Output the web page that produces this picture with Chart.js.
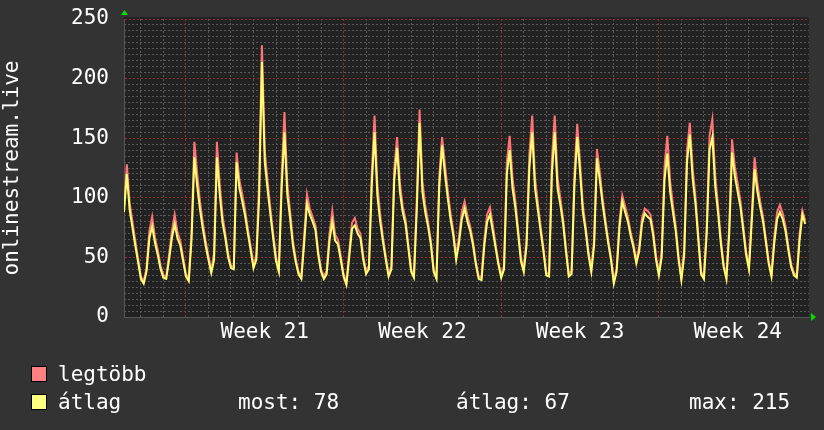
<!DOCTYPE html>
<html>
<head>
<meta charset="utf-8">
<script src="https://cdn.jsdelivr.net/npm/chart.js@4.4.0/dist/chart.umd.min.js"></script>
<style>
  html, body { margin: 0; padding: 0; background: #333333; }
  #wrap { position: relative; width: 824px; height: 430px; overflow: hidden; }
  #graph { position: absolute; left: 0; top: 0; }
  .lg { position: absolute; font-family: 'DejaVu Sans Mono', monospace; font-size: 21px; line-height: 24px; color: #ffffff; white-space: pre; }
  .sw { position: absolute; width: 14px; height: 14px; border: 1px solid #000; }
</style>
</head>
<body>
<div id="wrap">
  <canvas id="graph" width="824" height="430"></canvas>
</div>
<script>
// samples every 3 hours, hour 0 = start of week 21
const startHour = -66;
const stepHours = 3;

const weekLabels = ['Week 21', 'Week 22', 'Week 23', 'Week 24'];
const weekMidHours = [84, 252, 420, 588];
const weekStartHours = [0, 168, 336, 504];
const yLabels = [0, 50, 100, 150, 200, 250];

const seriesNames = ['legtöbb', 'átlag'];
const swatchColors = ['#ff8080', '#ffff80'];
const statNames = ['most', 'átlag', 'max'];
const statValues = [78, 67, 215];

const avgValues = [
  88, 120, 90, 75, 60, 46, 32, 28,
  38, 66, 76, 62, 52, 40, 33, 32,
  48, 66, 78, 66, 60, 47, 34, 30,
  65, 134, 110, 90, 74, 60, 48, 37,
  48, 134, 103, 79, 66, 50, 41, 40,
  130, 108, 97, 85, 70, 56, 41, 48,
  100, 214, 130, 107, 86, 66, 47, 38,
  108, 155, 103, 83, 60, 46, 36, 32,
  62, 95, 86, 80, 73, 52, 38, 32,
  36, 64, 80, 64, 61, 48, 34, 27,
  50, 74, 77, 70, 66, 48, 36, 40,
  110, 155, 102, 80, 63, 48, 34, 40,
  115, 142, 105, 88, 78, 58, 38, 33,
  90, 163, 105, 88, 76, 61, 38, 32,
  110, 144, 120, 100, 82, 68, 48, 62,
  82, 91, 80, 72, 60, 44, 32, 31,
  60, 80, 86, 72, 58, 44, 33, 40,
  120, 140, 108, 92, 70, 47, 38, 60,
  125, 155, 108, 90, 72, 55, 35, 34,
  120, 155, 108, 94, 78, 55, 34, 36,
  110, 151, 122, 88, 72, 52, 38, 60,
  133, 115, 95, 78, 62, 48, 28, 38,
  75, 97, 88, 80, 68, 58, 45, 55,
  78, 87, 84, 82, 68, 48, 35, 50,
  115, 137, 105, 88, 72, 48, 31, 52,
  130, 153, 116, 95, 65, 36, 32, 70,
  140, 151, 110, 88, 62, 42, 32, 70,
  138, 118, 105, 92, 72, 52, 40, 80,
  124, 105, 92, 80, 63, 45, 34, 62,
  82, 88, 82, 72, 56, 42, 35, 33,
  65, 86, 78
];

const maxValues = [
  92, 128, 96, 80, 64, 49, 34, 30,
  41, 72, 84, 67, 56, 43, 35, 34,
  52, 72, 86, 71, 64, 50, 36, 32,
  72, 147, 120, 97, 79, 64, 51, 39,
  54, 147, 112, 85, 70, 53, 43, 42,
  138, 115, 103, 90, 74, 59, 43, 52,
  112, 228, 140, 114, 91, 70, 50, 40,
  118, 172, 112, 89, 64, 49, 38, 34,
  68, 103, 91, 84, 77, 55, 40, 34,
  39, 70, 89, 69, 65, 51, 36, 29,
  55, 79, 83, 74, 70, 51, 38, 43,
  120, 169, 111, 86, 67, 51, 36, 43,
  124, 151, 113, 93, 82, 61, 40, 35,
  99, 174, 114, 94, 80, 64, 40, 34,
  118, 151, 128, 106, 87, 72, 51, 67,
  88, 97, 85, 76, 63, 46, 34, 33,
  65, 86, 92, 77, 61, 46, 35, 43,
  130, 152, 117, 98, 74, 50, 40, 65,
  136, 169, 117, 96, 76, 58, 37, 36,
  132, 169, 117, 100, 82, 58, 36, 39,
  120, 162, 130, 94, 76, 55, 40, 65,
  141, 122, 100, 82, 65, 50, 30, 41,
  80, 102, 93, 84, 71, 61, 47, 59,
  83, 91, 89, 86, 72, 51, 37, 55,
  126, 152, 114, 94, 76, 51, 33, 57,
  140, 163, 125, 101, 69, 38, 34, 76,
  152, 166, 119, 94, 66, 44, 34, 76,
  149, 126, 112, 97, 76, 55, 42, 86,
  134, 112, 97, 84, 66, 47, 36, 67,
  88, 94, 87, 76, 59, 44, 37, 35,
  70, 89, 81
];

const gridMinor = '#585858';
const gridMajor = '#8a3232';
const gridDash = [2, 2];
const textFont = { family: 'DejaVu Sans Mono', size: 21 };

function buildPoints(values) {
  return values.map((v, i) => ({ x: startHour + i * stepHours, y: v }));
}

// extra scales that only draw grid lines
function gridScale(axis, position, tickValues, color, min, max) {
  return {
    type: 'linear',
    axis: axis,
    position: position,
    min: min,
    max: max,
    afterBuildTicks(scale) { scale.ticks = tickValues.map(v => ({ value: v })); },
    afterFit(scale) {
      if (axis === 'x') scale.height = 0; else scale.width = 0;
      scale.paddingLeft = 0; scale.paddingRight = 0;
      scale.paddingTop = 0; scale.paddingBottom = 0;
    },
    ticks: { display: false, autoSkip: false },
    grid: { drawTicks: false, color: color, lineWidth: 1 },
    border: { display: false, dash: gridDash }
  };
}

const dayHours = [];
for (let h = -48; h <= 648; h += 24) if (!weekStartHours.includes(h)) dayHours.push(h);
const minorY = [];
for (let v = 5; v < 250; v += 5) if (!yLabels.includes(v)) minorY.push(v);

const plotDecor = {
  id: 'plotDecor',
  beforeDraw(chart) {
    const { ctx, chartArea: a } = chart;
    ctx.save();
    ctx.fillStyle = '#222222';
    ctx.fillRect(a.left, a.top - 2, a.right - a.left, a.bottom - a.top + 3);
    ctx.restore();
  },
  afterDraw(chart) {
    const { ctx, chartArea: a } = chart;
    ctx.save();
    ctx.fillStyle = '#00dd00';
    ctx.beginPath();
    ctx.moveTo(a.left - 3, a.top - 4);
    ctx.lineTo(a.left + 4, a.top - 4);
    ctx.lineTo(a.left + 0.5, a.top - 9);
    ctx.closePath();
    ctx.fill();
    ctx.beginPath();
    ctx.moveTo(a.right + 2, a.bottom - 4);
    ctx.lineTo(a.right + 2, a.bottom + 4);
    ctx.lineTo(a.right + 7, a.bottom);
    ctx.closePath();
    ctx.fill();
    ctx.restore();
  }
};

function createChart() {
  const ctx = document.getElementById('graph').getContext('2d');
  new Chart(ctx, {
    type: 'line',
    data: {
      datasets: [
        {
          label: seriesNames[1],
          data: buildPoints(avgValues),
          borderColor: '#ffff70',
          borderWidth: 2,
          pointRadius: 0,
          tension: 0
        },
        {
          label: seriesNames[0],
          data: buildPoints(maxValues),
          borderColor: '#ff7474',
          borderWidth: 2,
          pointRadius: 0,
          tension: 0
        }
      ]
    },
    options: {
      responsive: false,
      animation: false,
      devicePixelRatio: 1,
      layout: { padding: { top: 19, right: 15, left: 0, bottom: 0 } },
      plugins: { legend: { display: false }, tooltip: { enabled: false } },
      scales: {
        xDay: gridScale('x', 'bottom', dayHours, gridMinor, startHour, 664),
        yMinor: gridScale('y', 'left', minorY, gridMinor, 0, 250),
        x: {
          type: 'linear',
          min: startHour,
          max: 664,
          afterBuildTicks(scale) {
            const ticks = weekStartHours.concat(weekMidHours).sort((a, b) => a - b);
            scale.ticks = ticks.map(v => ({ value: v }));
          },
          afterFit(scale) {
            scale.height = 113;
            scale.paddingLeft = 0;
            scale.paddingRight = 0;
          },
          ticks: {
            autoSkip: false,
            maxRotation: 0,
            padding: 3,
            color: '#ffffff',
            font: textFont,
            callback: (v) => {
              const i = weekMidHours.indexOf(v);
              return i >= 0 ? weekLabels[i] : '';
            }
          },
          grid: {
            drawTicks: false,
            color: (c) => (c.tick && weekStartHours.includes(c.tick.value)) ? gridMajor : 'rgba(0,0,0,0)'
          },
          border: { color: '#555555', dash: gridDash }
        },
        y: {
          min: 0,
          max: 250,
          afterBuildTicks(scale) { scale.ticks = yLabels.map(v => ({ value: v })); },
          afterFit(scale) {
            scale.width = 124;
            scale.paddingTop = 0;
            scale.paddingBottom = 0;
          },
          ticks: {
            autoSkip: false,
            padding: 15,
            color: '#ffffff',
            font: textFont
          },
          grid: { drawTicks: false, color: gridMajor },
          border: { color: '#555555', dash: gridDash },
          title: {
            display: true,
            text: 'onlinestream.live',
            color: '#ffffff',
            font: textFont,
            padding: 0
          }
        }
      }
    },
    plugins: [plotDecor]
  });
}

function buildLegend() {
  const wrap = document.getElementById('wrap');
  const rowTops = [362, 390];
  seriesNames.forEach((name, i) => {
    const sw = document.createElement('div');
    sw.className = 'sw';
    sw.style.left = '31px';
    sw.style.top = (rowTops[i] + 4) + 'px';
    sw.style.background = swatchColors[i];
    wrap.appendChild(sw);
    const t = document.createElement('div');
    t.className = 'lg';
    t.style.left = '58px';
    t.style.top = rowTops[i] + 'px';
    t.textContent = name;
    wrap.appendChild(t);
  });
  const statLeft = [238, 456, 689];
  statNames.forEach((name, i) => {
    const t = document.createElement('div');
    t.className = 'lg';
    t.style.left = statLeft[i] + 'px';
    t.style.top = rowTops[1] + 'px';
    t.textContent = name + ': ' + statValues[i];
    wrap.appendChild(t);
  });
}

createChart();
buildLegend();
</script>
</body>
</html>
